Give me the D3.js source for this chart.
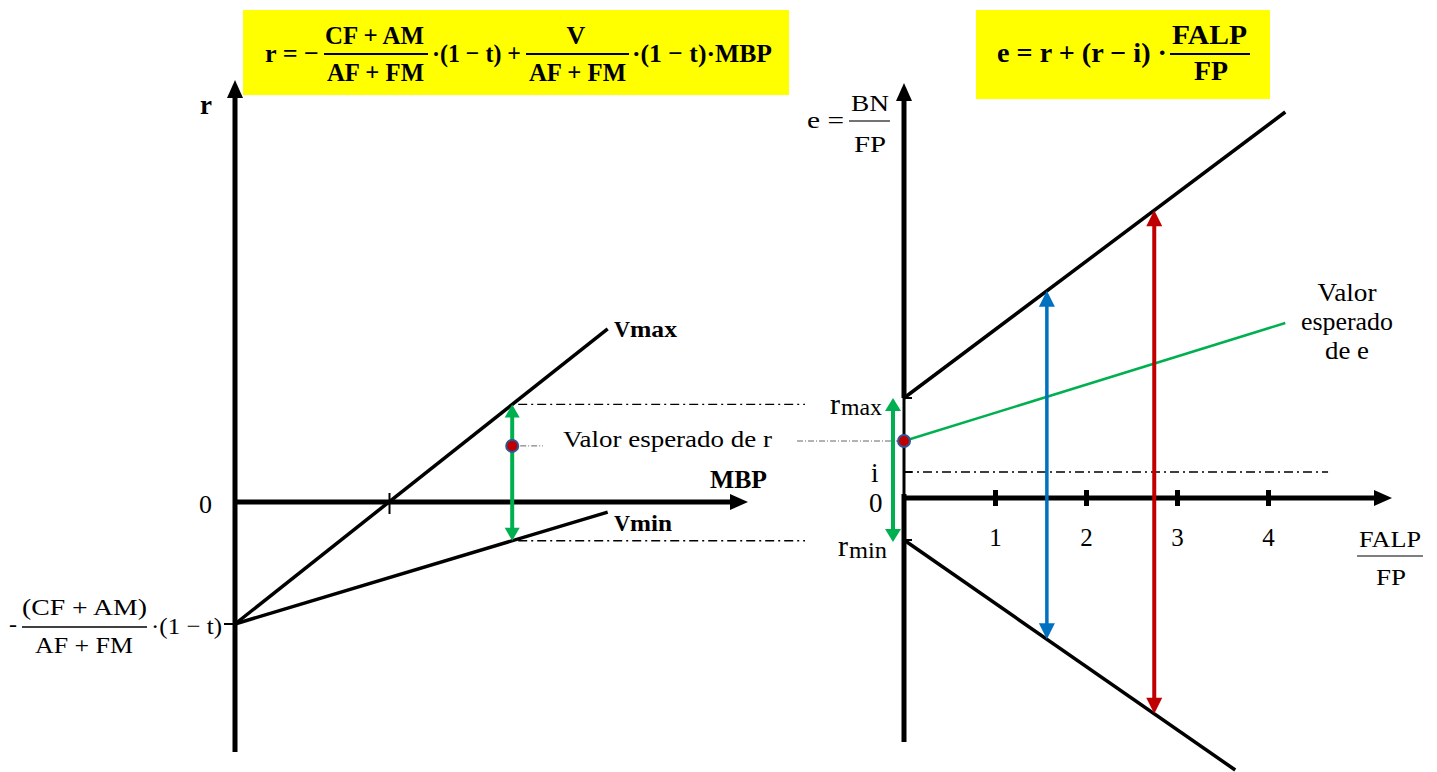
<!DOCTYPE html>
<html><head><meta charset="utf-8">
<script src="https://cdn.jsdelivr.net/npm/d3@7"></script>
<style>html,body{margin:0;padding:0;background:#fff;} svg{display:block;} text{font-family:'Liberation Serif','Times New Roman',serif;}</style>
</head><body>
<script>
// ---- Left panel: return on assets r as a function of MBP ----
const leftIntercept = -1;               // -(CF+AM)/(AF+FM)·(1-t)
const leftSlopes = [1, 0.379];          // V max, V min
const leftSubs = ["max", "min"];
const mbpLineEnd = 2.42;
const mbpMarked = 1.8;                  // MBP where the r range is read
const rExpectedLeft = 0.46;
const mbpTicks = [1];

// ---- Right panel: return on equity e as a function of FALP/FP ----
const rMax = 1.0;
const rExpected = 0.57;
const iRate = 0.26;
const rMin = -0.42;
const leverageTicks = [1, 2, 3, 4];
const upperEnd = [4.19, 3.86];          // [FALP/FP, e]
const lowerEnd = [3.64, -2.72];
const expectedEnd = [4.19, 1.75];
const spreadAt = [1.57, 2.75];
const spreadColors = ["#0070c0", "#c00000"];
const iLineEnd = 4.66;

const SERIF = "'Liberation Serif','Times New Roman',serif";
const GREEN = "#00b050";

const svg = d3.select("body").append("svg").attr("width", 1437).attr("height", 772)
  .attr("font-family", SERIF);

const xL = d3.scaleLinear().domain([0, 1]).range([235, 389]);
const yL = d3.scaleLinear().domain([0, -1]).range([502, 624]);
const xR = d3.scaleLinear().domain([0, 1]).range([904, 995]);
const yR = d3.scaleLinear().domain([0, 1]).range([498, 398]);

function txt(g, x, y, s, size, o = {}) {
  const t = g.append("text").attr("x", x).attr("y", y).text(s)
    .attr("font-size", size).attr("font-family", SERIF).attr("fill", o.fill || "#000");
  if (o.bold) t.attr("font-weight", "bold");
  if (o.anchor) t.attr("text-anchor", o.anchor);
  if (o.len) t.attr("textLength", o.len).attr("lengthAdjust", "spacingAndGlyphs");
  return t;
}
function seg(g, x1, y1, x2, y2, w, color = "#000", dash = null) {
  const l = g.append("line").attr("x1", x1).attr("y1", y1).attr("x2", x2).attr("y2", y2)
    .attr("stroke", color).attr("stroke-width", w);
  if (dash) l.attr("stroke-dasharray", dash);
  return l;
}
// arrow head with its tip at (x2,y2), pointing from (x1,y1)
function head(g, x1, y1, x2, y2, len, wid, color) {
  const a = Math.atan2(y2 - y1, x2 - x1);
  const bx = x2 - len * Math.cos(a), by = y2 - len * Math.sin(a);
  const px = Math.sin(a) * wid / 2, py = -Math.cos(a) * wid / 2;
  g.append("path").attr("d", `M${x2},${y2}L${bx + px},${by + py}L${bx - px},${by - py}Z`).attr("fill", color);
}
function arrow(g, x1, y1, x2, y2, w, color, len, wid, both) {
  const a = Math.atan2(y2 - y1, x2 - x1);
  const sx = both ? x1 + (len - 2) * Math.cos(a) : x1, sy = both ? y1 + (len - 2) * Math.sin(a) : y1;
  seg(g, sx, sy, x2 - (len - 2) * Math.cos(a), y2 - (len - 2) * Math.sin(a), w, color);
  head(g, x1, y1, x2, y2, len, wid, color);
  if (both) head(g, x2, y2, x1, y1, len, wid, color);
}
function dot(g, x, y) {
  g.append("circle").attr("cx", x).attr("cy", y).attr("r", 6)
    .attr("fill", "#c00000").attr("stroke", "#2f5597").attr("stroke-width", 2);
}

// ---- formula boxes ----
const f = svg.append("g");
f.append("rect").attr("x", 243).attr("y", 10).attr("width", 546).attr("height", 85).attr("fill", "#ffff00");
f.append("rect").attr("x", 976).attr("y", 10).attr("width", 294).attr("height", 89).attr("fill", "#ffff00");
txt(f, 265, 62, "r = −", 26, { bold: true, len: 54 });
txt(f, 325, 44, "CF + AM", 26, { bold: true, len: 99 });
seg(f, 324, 54, 428, 54, 1.8);
txt(f, 327, 81, "AF + FM", 26, { bold: true, len: 97 });
txt(f, 432, 62, "·(1 − t) +", 26, { bold: true, len: 89 });
txt(f, 576, 44, "V", 26, { bold: true, anchor: "middle" });
seg(f, 526, 54, 629, 54, 1.8);
txt(f, 529, 81, "AF + FM", 26, { bold: true, len: 97 });
txt(f, 632, 62, "·(1 − t)·MBP", 26, { bold: true, len: 140 });

txt(f, 997, 62, "e = r + (r − i) ·", 28, { bold: true, len: 170 });
seg(f, 1170, 54, 1250, 54, 2);
txt(f, 1172, 44, "FALP", 27, { bold: true, len: 75 });
txt(f, 1194, 80, "FP", 27, { bold: true, len: 34 });

// ---- left panel ----
const L = svg.append("g");
const rMaxL = leftIntercept + leftSlopes[0] * mbpMarked;
const rMinL = leftIntercept + leftSlopes[1] * mbpMarked;

// reference lines for r max / r min
seg(L, xL(mbpMarked) + 6, yL(rMaxL), 805, yL(rMaxL), 1.3, "#000", "9,4,2,4");
seg(L, xL(mbpMarked) + 6, yL(rMinL), 805, yL(rMinL), 1.3, "#000", "9,4,2,4");
// expected-value connector
seg(L, xL(mbpMarked) + 8, yL(rExpectedLeft), 543, yL(rExpectedLeft), 1, "#666", "6,2,1,2");
seg(L, 797, yR(rExpected), xR(0) - 6, yR(rExpected), 1, "#666", "6,2,1,2");

// axes
arrow(L, xL(0), 752, xL(0), 80, 5, "#000", 18, 16, false);
arrow(L, xL(0), yL(0), 748, yL(0), 5, "#000", 18, 16, false);
const ax = L.append("g").attr("transform", `translate(0,${yL(0)})`)
  .call(d3.axisBottom(xL).tickValues(mbpTicks).tickFormat(""));
ax.select(".domain").remove();
ax.selectAll(".tick line").attr("y1", -9).attr("y2", 12).attr("stroke", "#000").attr("stroke-width", 2);
seg(L, 224, yL(leftIntercept), xL(0), yL(leftIntercept), 2);

// V lines
leftSlopes.forEach(s => {
  L.append("path")
    .attr("d", d3.line()([[xL(0), yL(leftIntercept)], [xL(mbpLineEnd), yL(leftIntercept + s * mbpLineEnd)]]))
    .attr("stroke", "#000").attr("stroke-width", 3.5).attr("fill", "none");
});
arrow(L, xL(mbpMarked), yL(rMaxL), xL(mbpMarked), yL(rMinL), 4, GREEN, 13, 15, true);
dot(L, xL(mbpMarked), yL(rExpectedLeft));

// labels
txt(L, 200, 114, "r", 27, { bold: true });
txt(L, 199, 513, "0", 26);
txt(L, 710, 488, "MBP", 25, { bold: true, len: 57 });
leftSubs.forEach((s, k) => {
  const y = k === 0 ? 337 : 531;
  txt(L, 614, y, "V", 23, { bold: true, len: 16 });
  txt(L, 630, y, s, 24, { bold: true, len: k === 0 ? 47 : 42 });
});
txt(L, 563, 447, "Valor esperado de r", 23, { len: 209 });
txt(L, 9, 632, "-", 24);
txt(L, 22, 615, "(CF + AM)", 24, { len: 125 });
seg(L, 22, 627, 147, 627, 1.3);
txt(L, 35, 653, "AF + FM", 24, { len: 98 });
txt(L, 151, 634, "·(1 − t)", 24, { len: 71 });

// ---- right panel ----
const R = svg.append("g");
seg(R, xR(0), yR(iRate), xR(iLineEnd), yR(iRate), 1.3, "#000", "9,4,2,4");

// vertical axis (thinner between r max and 0)
seg(R, xR(0), 742, xR(0), yR(0) - 4, 5);
seg(R, xR(0), yR(0) - 4, xR(0), yR(rMax), 3);
arrow(R, xR(0), yR(rMax), xR(0), 83, 5, "#000", 18, 16, false);
[rMax, iRate, rMin].forEach(v => seg(R, xR(0), yR(v), xR(0) + 8, yR(v), 2));
arrow(R, xR(0), yR(0), 1392, yR(0), 5, "#000", 18, 16, false);
const axR = R.append("g").attr("transform", `translate(0,${yR(0)})`)
  .call(d3.axisBottom(xR).tickValues(leverageTicks).tickFormat(d3.format("d")));
axR.select(".domain").remove();
axR.selectAll(".tick line").attr("y1", -8).attr("y2", 8).attr("stroke", "#000").attr("stroke-width", 5);
axR.selectAll(".tick text").attr("y", 48).attr("dy", 0).attr("font-size", 25)
  .attr("font-family", SERIF).attr("fill", "#000");

const line = d3.line().x(d => xR(d[0])).y(d => yR(d[1]));
R.append("path").attr("d", line([[0, rMax], upperEnd])).attr("stroke", "#000").attr("stroke-width", 3.5).attr("fill", "none");
R.append("path").attr("d", line([[0, rMin], lowerEnd])).attr("stroke", "#000").attr("stroke-width", 3.5).attr("fill", "none");
R.append("path").attr("d", line([[0, rExpected], expectedEnd])).attr("stroke", GREEN).attr("stroke-width", 2.5).attr("fill", "none");

const upAt = x => rMax + (upperEnd[1] - rMax) / upperEnd[0] * x;
const lowAt = x => rMin + (lowerEnd[1] - rMin) / lowerEnd[0] * x;
spreadAt.forEach((x, k) => {
  arrow(R, xR(x), yR(upAt(x)), xR(x), yR(lowAt(x)), k === 0 ? 3.5 : 4, spreadColors[k], 16, 16, true);
});
arrow(R, xR(0) - 11, yR(rMax), xR(0) - 11, yR(rMin) + 2, 4, GREEN, 13, 16, true);
dot(R, xR(0), yR(rExpected));

// labels
txt(R, 807, 128, "e =", 24, { len: 37 });
txt(R, 851, 111, "BN", 24, { len: 38 });
seg(R, 849, 121, 890, 121, 1.4, "#444");
txt(R, 854, 152, "FP", 24, { len: 32 });
txt(R, 830, 414, "r", 30);
txt(R, 841, 415, "max", 23, { len: 41 });
txt(R, 871, 482, "i", 27);
txt(R, 869, 512, "0", 27);
txt(R, 838, 556, "r", 30);
txt(R, 849, 558, "min", 23, { len: 38 });
txt(R, 1390, 547, "FALP", 24, { anchor: "middle", len: 62 });
seg(R, 1357, 556, 1423, 556, 1.6, "#555");
txt(R, 1391, 585, "FP", 24, { anchor: "middle", len: 30 });
txt(R, 1347, 301, "Valor", 25, { anchor: "middle", len: 59 });
txt(R, 1347, 330, "esperado", 25, { anchor: "middle", len: 92 });
txt(R, 1347, 359, "de e", 25, { anchor: "middle", len: 44 });
</script>
</body></html>
